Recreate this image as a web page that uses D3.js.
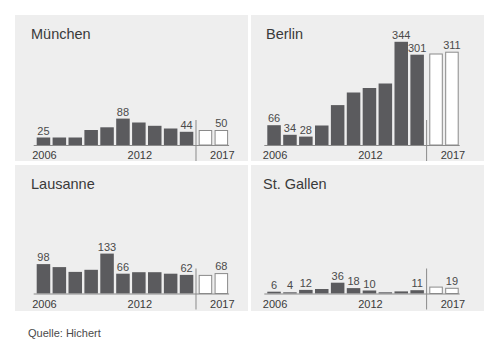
<!DOCTYPE html>
<html>
<head>
<meta charset="utf-8">
<script src="https://cdn.jsdelivr.net/npm/d3@7"></script>
<style>
  html, body { margin: 0; padding: 0; background: #fff; }
  svg { display: block; font-family: "Liberation Sans", Arial, sans-serif; }
</style>
</head>
<body>
<svg id="chart" width="500" height="350"></svg>
<script>
// Years shown on each small multiple; the last two are plan values
const years = ["2006","2007","2008","2009","2010","2011","2012","2013","2014","2015","2016","2017"];
const planYears = ["2016","2017"];
const tickYears = ["2006","2012","2017"];

// Values per city
const muenchen  = [25, 25, 25, 50, 59, 88, 75, 64, 55, 44, 50, 50];
const berlin    = [66, 34, 28, 65, 133, 175, 190, 205, 344, 301, 305, 311];
const lausanne  = [98, 88, 72, 79, 133, 66, 71, 71, 66, 62, 62, 68];
const stgallen  = [6, 4, 12, 15, 36, 18, 10, 4, 7, 11, 23, 19];

// Which bars carry a value label
const muenchenLabels = ["2006","2011","2015","2017"];
const berlinLabels   = ["2006","2007","2008","2014","2015","2017"];
const lausanneLabels = ["2006","2010","2011","2015","2017"];
const stgallenLabels = ["2006","2007","2008","2010","2011","2012","2015","2017"];

const cityNames = ["München", "Berlin", "Lausanne", "St. Gallen"];
const source = "Quelle: Hichert";

const panels = [
  { name: cityNames[0], values: muenchen, labels: muenchenLabels, x: 15,  y: 15,  barX: 36.7,  titleX: 31,  base: 130 },
  { name: cityNames[1], values: berlin,   labels: berlinLabels,   x: 251, y: 15,  barX: 267.3, titleX: 266, base: 130 },
  { name: cityNames[2], values: lausanne, labels: lausanneLabels, x: 15,  y: 165, barX: 36.7,  titleX: 31,  base: 128.5 },
  { name: cityNames[3], values: stgallen, labels: stgallenLabels, x: 251, y: 165, barX: 267.3, titleX: 263, base: 128.5 }
];

const panelW = 233, panelH = 146;
const step = 15.7, gap = 3;
const unitPx = 0.3;            // shared value scale for all cities

const svg = d3.select("#chart");

// Common vertical scale (value -> bar height)
const h = d3.scaleLinear().domain([0, 350]).range([0, 350 * unitPx]);

panels.forEach(p => {
  const g = svg.append("g").attr("transform", `translate(${p.x},${p.y})`);
  g.append("rect")
    .attr("width", panelW).attr("height", panelH)
    .attr("fill", "#eeeeee");

  const x0 = p.barX - p.x;
  const x = d3.scaleBand()
    .domain(years)
    .range([x0, x0 + step * years.length])
    .paddingInner(0.15)
    .paddingOuter(0)
    .align(0);
  const isPlan = d => planYears.includes(d);
  const bx = d => x(d) + (isPlan(d) ? gap : 0);
  const bw = x.bandwidth();
  const base = p.base;

  g.append("text")
    .attr("x", p.titleX - p.x).attr("y", 24)
    .attr("font-size", 14.5).attr("fill", "#3a3a3a")
    .text(p.name);

  const data = years.map((yr, i) => ({ yr, v: p.values[i] }));

  g.selectAll("rect.bar").data(data).enter().append("rect")
    .attr("class", "bar")
    .attr("x", d => isPlan(d.yr) ? bx(d.yr) + 0.5 : bx(d.yr))
    .attr("y", d => isPlan(d.yr) ? base - h(d.v) + 0.5 : base - h(d.v))
    .attr("width", d => isPlan(d.yr) ? bw - 1 : bw)
    .attr("height", d => isPlan(d.yr) ? h(d.v) - 0.5 : h(d.v))
    .attr("fill", d => isPlan(d.yr) ? "#ffffff" : "#5b5b5e")
    .attr("stroke", d => isPlan(d.yr) ? "#8a8a8a" : "none")
    .attr("stroke-width", 1);

  // axis line
  const last = years[years.length - 1];
  g.append("line")
    .attr("x1", x0 - 3).attr("x2", bx(last) + bw + 1)
    .attr("y1", base + 0.5).attr("y2", base + 0.5)
    .attr("stroke", "#8a8a8a").attr("stroke-width", 1);

  // separator between actual and plan years
  const sepX = (x("2015") + bw + bx("2016")) / 2;
  g.append("line")
    .attr("x1", sepX).attr("x2", sepX)
    .attr("y1", base - 25).attr("y2", base + 16)
    .attr("stroke", "#8a8a8a").attr("stroke-width", 1);

  // value labels
  g.selectAll("text.val").data(data.filter(d => p.labels.includes(d.yr))).enter().append("text")
    .attr("class", "val")
    .attr("x", d => bx(d.yr) + bw / 2)
    .attr("y", d => base - h(d.v) - 3)
    .attr("text-anchor", "middle")
    .attr("font-size", 11).attr("fill", "#4a4a4a")
    .text(d => d.v);

  // year ticks
  g.selectAll("text.yr").data(tickYears).enter().append("text")
    .attr("class", "yr")
    .attr("x", d => bx(d) + bw / 2 + 1)
    .attr("y", base + 14)
    .attr("text-anchor", "middle")
    .attr("font-size", 11).attr("fill", "#3a3a3a")
    .text(d => d);
});

svg.append("text")
  .attr("x", 28).attr("y", 337)
  .attr("font-size", 11).attr("fill", "#4a4a4a")
  .text(source);
</script>
</body>
</html>
